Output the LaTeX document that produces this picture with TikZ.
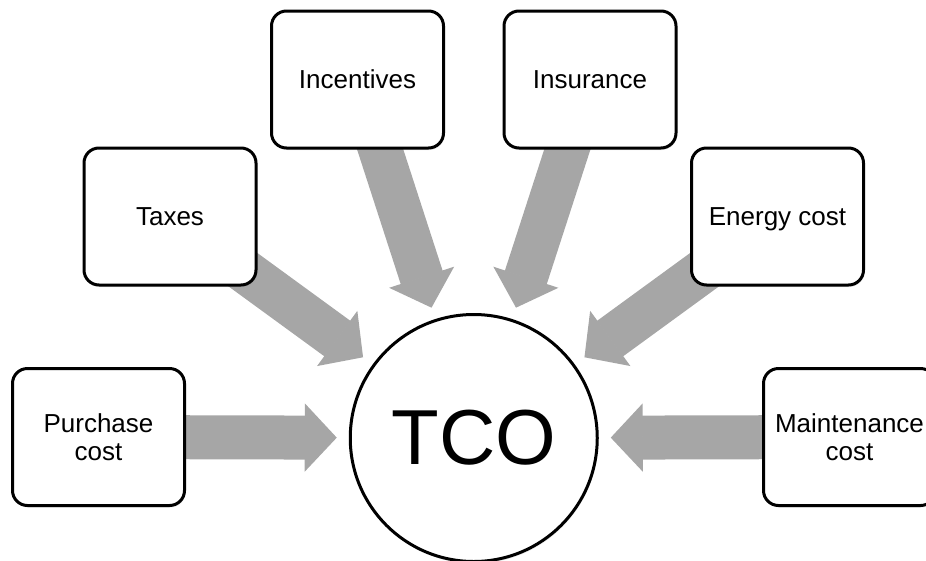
\documentclass[tikz,border=0pt]{standalone}
\usepackage{fontspec}
\setmainfont{Liberation Sans}
\usetikzlibrary{arrows.meta, calc, backgrounds, shadows}
\definecolor{arrowgray}{RGB}{166,166,166}

\begin{document}
\begin{tikzpicture}[x=1pt, y=-1pt,
    costbox/.style={draw=black, line width=3pt, fill=white, rounded corners=15pt,
        minimum width=172pt, minimum height=137pt, inner sep=0pt, align=center,
        font=\fontsize{26}{28}\selectfont,
        drop shadow={shadow xshift=1pt, shadow yshift=-2pt, opacity=0.18}},
    fatarrow/.style={draw=arrowgray, line width=44pt,
        -{Triangle[length=32pt, width=68pt, line width=2pt]}}]
    \useasboundingbox (0,0) rectangle (926,560);
    \node[circle, draw=black, line width=3pt, fill=white, minimum size=247pt, inner sep=0pt,
        font=\fontsize{78}{80}\selectfont,
        drop shadow={shadow xshift=1pt, shadow yshift=-2pt, opacity=0.18}] (tco) at (473.75,438) {TCO};
    \node[costbox] (purchase) at (98.5,437) {Purchase\\cost};
    \node[costbox] (taxes) at (170,216.5) {Taxes};
    \node[costbox] (incentives) at (357.5,79.5) {Incentives};
    \node[costbox] (insurance) at (590,79.5) {Insurance};
    \node[costbox, text depth=0pt] (energy) at (777.5,216.5) {Energy cost};
    \node[costbox] (maintenance) at (849.5,437) {Maintenance\\cost};
    \begin{scope}[on background layer]
        \foreach \src in {purchase, taxes, incentives, insurance, energy, maintenance}
            \draw[fatarrow] (\src.center) -- ($(tco.center)!137pt!(\src.center)$);
    \end{scope}
\end{tikzpicture}
\end{document}
